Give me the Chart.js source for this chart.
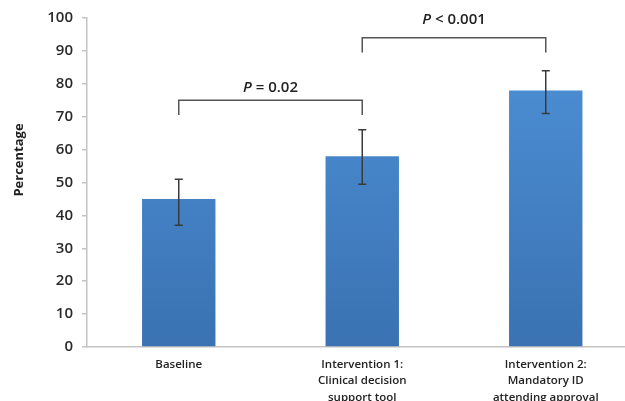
<!DOCTYPE html>
<html>
<head>
<meta charset="utf-8">
<script src="https://cdn.jsdelivr.net/npm/chart.js@4/dist/chart.umd.min.js"></script>
<style>
html,body{margin:0;padding:0;background:#fff;overflow:hidden;}
#wrap{width:640px;height:401px;}
</style>
</head>
<body>
<div id="wrap"><canvas id="c" width="640" height="401"></canvas></div>
<script>
const categories = [
  "Baseline",
  ["Intervention 1:", "Clinical decision", "support tool"],
  ["Intervention 2:", "Mandatory ID", "attending approval"]
];
const percentages = [45, 58, 78];
const errorLow = [37, 49.5, 71];
const errorHigh = [51, 66, 84];
const yTicks = [0, 10, 20, 30, 40, 50, 60, 70, 80, 90, 100];
// significance brackets: from category index, to category index, bracket level, leg bottom, label
const bracketFrom = [0, 1];
const bracketTo = [1, 2];
const bracketLevel = [75, 94];
const bracketLegEnd = [70.5, 89.5];
const bracketLabelValue = [78.8, 99.4];
const bracketLabelRest = [" = 0.02", " < 0.001"];

const overlay = {
  id: 'overlay',
  afterDatasetsDraw(chart) {
    const ctx = chart.ctx;
    const x = chart.scales.x, y = chart.scales.y;
    // error bars
    ctx.save();
    ctx.strokeStyle = '#3a3a3a';
    ctx.lineWidth = 1.5;
    percentages.forEach((v, i) => {
      const cx = x.getPixelForValue(i);
      const yt = y.getPixelForValue(errorHigh[i]);
      const yb = y.getPixelForValue(errorLow[i]);
      ctx.beginPath();
      ctx.moveTo(cx, yt); ctx.lineTo(cx, yb);
      ctx.moveTo(cx - 4, yt); ctx.lineTo(cx + 4, yt);
      ctx.moveTo(cx - 4, yb); ctx.lineTo(cx + 4, yb);
      ctx.stroke();
    });
    ctx.restore();
    // brackets
    ctx.save();
    ctx.strokeStyle = '#555';
    ctx.lineWidth = 1.5;
    bracketFrom.forEach((f, i) => {
      const x1 = x.getPixelForValue(f);
      const x2 = x.getPixelForValue(bracketTo[i]);
      const yl = y.getPixelForValue(bracketLevel[i]);
      const ye = y.getPixelForValue(bracketLegEnd[i]);
      ctx.beginPath();
      ctx.moveTo(x1, ye); ctx.lineTo(x1, yl); ctx.lineTo(x2, yl); ctx.lineTo(x2, ye);
      ctx.stroke();
      // label
      const ty = y.getPixelForValue(bracketLabelValue[i]);
      const cx = (x1 + x2) / 2;
      ctx.fillStyle = '#222';
      ctx.textBaseline = 'middle';
      const fItalic = 'italic 600 15px "Open Sans"';
      const fReg = '600 15px "Open Sans"';
      ctx.font = fItalic;
      const w1 = ctx.measureText('P').width;
      ctx.font = fReg;
      const w2 = ctx.measureText(bracketLabelRest[i]).width;
      const sx = cx - (w1 + w2) / 2;
      ctx.textAlign = 'left';
      ctx.font = fItalic;
      ctx.fillText('P', sx, ty);
      ctx.font = fReg;
      ctx.fillText(bracketLabelRest[i], sx + w1, ty);
    });
    ctx.restore();
    // y axis title
    ctx.save();
    ctx.translate(19, 160);
    ctx.rotate(-Math.PI / 2);
    ctx.fillStyle = '#222';
    ctx.font = 'bold 13px "Open Sans"';
    ctx.textAlign = 'center';
    ctx.textBaseline = 'middle';
    ctx.fillText('Percentage', 0, 0);
    ctx.restore();
  }
};

new Chart(document.getElementById('c'), {
  type: 'bar',
  data: {
    labels: categories,
    datasets: [{
      data: percentages,
      backgroundColor(ctx) {
        const ca = ctx.chart.chartArea;
        if (!ca) return '#4a8bd0';
        const g = ctx.chart.ctx.createLinearGradient(0, ca.top, 0, ca.bottom);
        g.addColorStop(0, '#4f93da');
        g.addColorStop(1, '#3a72b2');
        return g;
      },
      borderWidth: 0,
      barPercentage: 0.4,
      categoryPercentage: 1.0
    }]
  },
  options: {
    responsive: false,
    animation: false,
    events: [],
    layout: { padding: { left: 0, right: 2.5, top: 18, bottom: 0 } },
    plugins: { legend: { display: false }, tooltip: { enabled: false } },
    scales: {
      x: {
        grid: { display: false },
        border: { color: '#c4c4c4', width: 1.5 },
        ticks: {
          color: '#222',
          font: { family: 'Open Sans', size: 11.5, weight: '600', lineHeight: 1.45 },
          padding: 1,
          maxRotation: 0,
          autoSkip: false
        },
        afterFit(s) { s.height = 54; }
      },
      y: {
        min: 0, max: 100,
        afterBuildTicks(s) { s.ticks = yTicks.map(v => ({ value: v })); },
        grid: { drawOnChartArea: false, tickLength: 5, color: '#c4c4c4', lineWidth: 1.5 },
        border: { color: '#c4c4c4', width: 1.5 },
        ticks: {
          color: '#2a2a2a',
          font: { family: 'Open Sans', size: 15, weight: '600' },
          padding: 9
        },
        afterFit(s) { s.width = 87; }
      }
    }
  },
  plugins: [overlay]
});
</script>
</body>
</html>
